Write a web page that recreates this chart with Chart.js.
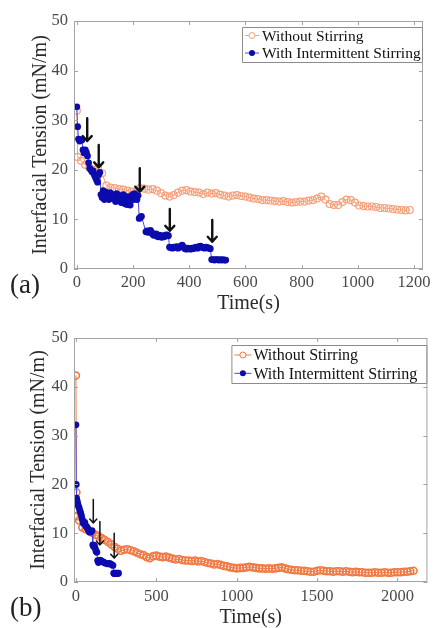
<!DOCTYPE html>
<html>
<head>
<meta charset="utf-8">
<script src="https://cdn.jsdelivr.net/npm/chart.js@4.4.0/dist/chart.umd.min.js"></script>
<style>
body { margin: 0; background: #fff; }
.painel { position: relative; width: 433px; height: 314px; }
.rotulo { position: absolute; left: 10px; font-family: 'Liberation Serif', serif; font-size: 27px; line-height: 1; color: #222; }
</style>
</head>
<body>
<div class="painel"><canvas id="graficoA" width="433" height="314"></canvas><div class="rotulo" style="top:271px">(a)</div></div>
<div class="painel"><canvas id="graficoB" width="433" height="314"></canvas><div class="rotulo" style="top:280px">(b)</div></div>
<script>
// ---- dados (a) ----
const semTempoA = [0, 3, 15, 30, 45, 60, 75, 90, 105, 120, 135, 150, 165, 180, 195, 210, 225, 240, 255, 270, 285, 300, 315, 330, 345, 360, 375, 390, 405, 420, 435, 450, 465, 480, 495, 510, 525, 540, 555, 570, 585, 600, 615, 630, 645, 660, 675, 690, 705, 720, 735, 750, 765, 780, 795, 810, 825, 840, 855, 870, 885, 900, 915, 930, 945, 960, 975, 990, 1005, 1020, 1035, 1050, 1065, 1080, 1095, 1110, 1125, 1140, 1155, 1170, 1185];
const semTensaoA = [31.9, 22.6, 21.8, 21.0, 20.4, 20.0, 20.4, 19.3, 16.8, 16.4, 16.3, 16.1, 16.0, 15.8, 15.6, 15.5, 16.3, 16.2, 16.0, 16.1, 15.8, 15.3, 14.8, 14.6, 14.9, 15.4, 15.8, 15.9, 15.6, 15.5, 15.4, 15.1, 15.4, 15.2, 15.3, 15.0, 14.8, 14.6, 14.8, 14.9, 14.7, 14.6, 14.4, 14.2, 14.1, 13.9, 13.9, 13.8, 13.7, 13.6, 13.7, 13.5, 13.4, 13.5, 13.6, 13.6, 13.8, 13.9, 14.2, 14.6, 14.0, 13.1, 12.9, 12.9, 13.5, 14.0, 13.9, 13.4, 12.8, 12.7, 12.6, 12.6, 12.5, 12.3, 12.3, 12.2, 12.1, 12.0, 11.9, 11.8, 11.9];

const comTempoA = [0, 3, 6, 10, 14, 18, 22, 26, 30, 34, 38, 42, 46, 50, 54, 58, 62, 66, 70, 74, 78, 82, 86, 90, 94, 98, 102, 106, 110, 114, 118, 122, 126, 130, 134, 138, 142, 146, 150, 154, 158, 162, 166, 170, 174, 178, 182, 186, 190, 194, 198, 202, 206, 210, 214, 218, 222, 226, 230, 246, 250, 254, 258, 262, 266, 270, 274, 278, 282, 286, 290, 294, 298, 302, 306, 310, 314, 318, 322, 326, 330, 335, 340, 345, 350, 355, 360, 365, 370, 375, 380, 385, 390, 395, 400, 405, 410, 415, 420, 425, 430, 435, 440, 445, 450, 455, 460, 465, 470, 475, 480, 485, 490, 495, 500, 505, 510, 515, 520, 525, 530];
const comTensaoA = [32.7, 28.7, 26.2, 25.8, 26.1, 26.0, 24.0, 23.4, 24.0, 23.5, 22.8, 21.4, 20.3, 20.0, 19.6, 19.8, 19.0, 18.5, 18.0, 17.5, 19.0, 19.5, 15.0, 14.4, 15.8, 14.0, 15.5, 15.2, 14.3, 14.0, 15.4, 14.8, 14.2, 15.0, 14.6, 13.6, 15.2, 14.5, 13.8, 14.8, 13.4, 14.4, 15.0, 13.2, 14.1, 13.0, 14.6, 13.8, 12.9, 14.2, 15.0, 14.0, 15.2, 14.6, 14.0, 14.8, 10.2, 10.4, 10.6, 7.5, 7.7, 7.4, 7.5, 7.8, 7.4, 7.0, 6.8, 6.9, 7.1, 6.6, 6.5, 6.8, 6.6, 6.4, 6.7, 6.5, 6.6, 6.9, 6.8, 6.7, 4.4, 4.3, 4.2, 4.4, 4.3, 4.5, 4.2, 4.4, 4.6, 4.8, 4.4, 4.1, 4.0, 4.2, 4.1, 4.0, 4.2, 4.1, 4.3, 4.4, 4.2, 4.5, 4.6, 4.4, 4.3, 4.2, 4.4, 4.3, 4.2, 4.1, 1.9, 1.9, 1.8, 1.9, 1.9, 1.8, 1.9, 1.8, 1.9, 1.8, 1.8];

const setaXA = [37, 78, 224, 331, 482];
const setaTopoA = [30.4, 25.0, 20.3, 12.1, 9.9];
const setaPontaA = [25.8, 20.5, 15.6, 7.7, 5.5];
const ticksXA = [0, 200, 400, 600, 800, 1000, 1200];

// ---- dados (b) ----
const semTempoB = [0, 3, 8, 20, 40, 60, 80, 100, 120, 140, 160, 180, 200, 220, 240, 260, 280, 300, 320, 340, 360, 380, 400, 420, 440, 460, 480, 500, 520, 540, 560, 580, 600, 620, 640, 660, 680, 700, 720, 740, 760, 780, 800, 820, 840, 860, 880, 900, 920, 940, 960, 980, 1000, 1020, 1040, 1060, 1080, 1100, 1120, 1140, 1160, 1180, 1200, 1220, 1240, 1260, 1280, 1300, 1320, 1340, 1360, 1380, 1400, 1420, 1440, 1460, 1480, 1500, 1520, 1540, 1560, 1580, 1600, 1620, 1640, 1660, 1680, 1700, 1720, 1740, 1760, 1780, 1800, 1820, 1840, 1860, 1880, 1900, 1920, 1940, 1960, 1980, 2000, 2020, 2040, 2060, 2080, 2100];
const semTensaoB = [42.3, 18.4, 13.5, 12.6, 11.2, 10.8, 10.5, 10.1, 9.7, 9.4, 9.0, 8.6, 8.2, 7.7, 7.2, 6.8, 6.4, 6.6, 6.7, 6.5, 6.3, 6.0, 5.7, 5.5, 5.1, 4.9, 5.3, 5.4, 5.2, 5.1, 5.2, 5.0, 4.8, 4.6, 4.7, 4.5, 4.4, 4.4, 4.3, 4.4, 4.2, 4.3, 4.1, 3.9, 3.8, 3.6, 3.7, 3.5, 3.3, 3.2, 3.0, 2.9, 2.8, 2.9, 2.9, 3.0, 3.1, 3.0, 2.9, 2.8, 2.8, 2.7, 2.8, 2.7, 2.8, 2.9, 3.0, 2.8, 2.6, 2.5, 2.4, 2.4, 2.3, 2.3, 2.2, 2.1, 2.1, 2.3, 2.4, 2.3, 2.2, 2.2, 2.1, 2.2, 2.2, 2.1, 2.2, 2.1, 2.0, 2.1, 2.0, 2.0, 1.9, 1.9, 1.9, 2.0, 1.9, 1.9, 2.0, 1.9, 1.9, 2.0, 2.0, 2.0, 2.1, 2.1, 2.2, 2.3];

const comTempoB = [0, 2, 4, 8, 12, 16, 20, 25, 30, 35, 40, 45, 50, 55, 60, 65, 70, 75, 80, 85, 90, 95, 100, 105, 110, 115, 120, 125, 130, 135, 140, 145, 150, 155, 160, 170, 180, 190, 200, 210, 220, 230, 235, 240, 245, 250, 255, 260, 265];
const comTensaoB = [32.2, 20.0, 17.2, 16.6, 16.0, 15.5, 15.2, 14.6, 14.1, 13.5, 12.8, 12.1, 12.0, 12.2, 11.6, 11.3, 11.2, 10.8, 10.5, 10.2, 10.4, 10.3, 10.5, 7.6, 7.3, 7.5, 6.9, 6.3, 6.1, 4.4, 4.0, 4.3, 4.5, 4.4, 4.2, 4.1, 3.9, 3.8, 3.7, 3.8, 3.6, 3.4, 1.8, 1.7, 1.8, 1.8, 1.7, 1.8, 1.8];

const setaXB = [108, 149, 238];
const setaTopoB = [16.9, 12.4, 10.0];
const setaPontaB = [12.1, 7.6, 4.9];
const ticksXB = [0, 500, 1000, 1500, 2000];

const ticksY = [0, 10, 20, 30, 40, 50];
const nomes = ['Without Stirring', 'With Intermittent Stirring'];

const pares = (xs, ys) => xs.map((x, i) => ({ x: x, y: ys[i] }));

// moldura da caixa, ticks internos, setas e legenda
const molduraPlugin = {
    id: 'moldura',
    afterDraw(chart, args, opts) {
        const { ctx, chartArea: a, scales: { x, y } } = chart;
        ctx.save();
        ctx.strokeStyle = '#a3a3a3';
        ctx.lineWidth = 1;
        ctx.strokeRect(a.left + 0.5, a.top + 0.5, a.right - a.left - 1, a.bottom - a.top - 1);
        ctx.beginPath();
        opts.ticksX.forEach(v => {
            const px = Math.round(x.getPixelForValue(v)) + 0.5;
            ctx.moveTo(px, a.bottom); ctx.lineTo(px, a.bottom - 4);
            ctx.moveTo(px, a.top); ctx.lineTo(px, a.top + 4);
        });
        ticksY.forEach(v => {
            const py = Math.round(y.getPixelForValue(v)) + 0.5;
            ctx.moveTo(a.left, py); ctx.lineTo(a.left + 4, py);
            ctx.moveTo(a.right, py); ctx.lineTo(a.right - 4, py);
        });
        ctx.stroke();

        // setas
        ctx.strokeStyle = '#111';
        ctx.lineWidth = opts.setaLargura;
        ctx.lineCap = 'round';
        ctx.lineJoin = 'round';
        opts.setaX.forEach((v, i) => {
            const px = x.getPixelForValue(v);
            const y0 = y.getPixelForValue(opts.setaTopo[i]);
            const y1 = y.getPixelForValue(opts.setaPonta[i]);
            ctx.beginPath();
            ctx.moveTo(px, y0); ctx.lineTo(px, y1);
            ctx.moveTo(px - opts.cabeca, y1 - opts.cabeca * 1.1);
            ctx.lineTo(px, y1);
            ctx.lineTo(px + opts.cabeca, y1 - opts.cabeca * 1.1);
            ctx.stroke();
        });

        // legenda
        const lg = opts.legenda;
        const bx = a.right - lg.largura - 1;
        const by = a.top + lg.topo;
        ctx.fillStyle = '#fff';
        ctx.fillRect(bx, by, lg.largura, lg.altura);
        ctx.strokeStyle = '#8c8c8c';
        ctx.lineWidth = 1;
        ctx.lineCap = 'butt';
        ctx.strokeRect(bx + 0.5, by + 0.5, lg.largura, lg.altura);
        ctx.font = lg.fonte;
        ctx.textBaseline = 'middle';
        chart.data.datasets.forEach((ds, i) => {
            const cy = by + lg.linha0 + i * lg.passo;
            ctx.strokeStyle = ds.borderColor;
            ctx.beginPath();
            ctx.moveTo(bx + 3, cy); ctx.lineTo(bx + 3 + lg.traco, cy);
            ctx.stroke();
            ctx.beginPath();
            ctx.arc(bx + 3 + lg.traco / 2, cy, 3, 0, Math.PI * 2);
            if (ds.pointBackgroundColor !== 'rgba(0,0,0,0)') {
                ctx.fillStyle = ds.pointBackgroundColor;
                ctx.fill();
            } else {
                ctx.fillStyle = '#fff';
                ctx.fill();
                ctx.strokeStyle = ds.pointBorderColor;
                ctx.stroke();
            }
            ctx.fillStyle = '#111';
            ctx.fillText(ds.label, bx + lg.texto, cy + 1);
        });
        ctx.restore();
    }
};

function criarGrafico(id, cfg) {
    const ctx = document.getElementById(id).getContext('2d');
    return new Chart(ctx, {
        type: 'line',
        data: {
            datasets: [{
                label: nomes[0],
                data: pares(cfg.semX, cfg.semY),
                borderColor: cfg.laranja,
                backgroundColor: 'rgba(0,0,0,0)',
                pointBackgroundColor: 'rgba(0,0,0,0)',
                pointBorderColor: cfg.laranja,
                pointRadius: 3.5,
                pointBorderWidth: cfg.anel,
                borderWidth: 1,
                tension: 0,
                order: 2
            }, {
                label: nomes[1],
                data: pares(cfg.comX, cfg.comY),
                borderColor: '#4646f0',
                backgroundColor: '#0b0bae',
                pointBackgroundColor: '#0b0bae',
                pointBorderColor: '#0b0bae',
                pointRadius: 3.4,
                pointBorderWidth: 0,
                borderWidth: 1,
                tension: 0,
                order: 1
            }]
        },
        options: {
            responsive: false,
            animation: false,
            devicePixelRatio: 1,
            layout: { padding: { top: cfg.topo, right: cfg.direita, left: 0, bottom: 0 } },
            plugins: {
                legend: { display: false },
                tooltip: { enabled: false },
                moldura: {
                    ticksX: cfg.ticksX,
                    setaX: cfg.setaX, setaTopo: cfg.setaTopo, setaPonta: cfg.setaPonta,
                    setaLargura: cfg.setaLargura, cabeca: cfg.cabeca,
                    legenda: cfg.legenda
                }
            },
            scales: {
                x: {
                    type: 'linear',
                    min: cfg.xMin,
                    max: cfg.xMax,
                    afterBuildTicks: s => { s.ticks = cfg.ticksX.map(v => ({ value: v })); },
                    afterFit: s => { s.height = cfg.alturaX; s.paddingLeft = 0; s.paddingRight = 0; },
                    grid: { display: false, drawTicks: false },
                    border: { display: false },
                    ticks: {
                        autoSkip: false, maxRotation: 0, padding: cfg.padX,
                        color: '#4a4a4a',
                        font: { family: 'Liberation Serif', size: 16.5 },
                        callback: v => String(v)
                    },
                    title: {
                        display: true, text: 'Time(s)', color: '#2a2a2a',
                        font: { family: 'Liberation Serif', size: 20, lineHeight: 1 },
                        padding: { top: 0, bottom: 0 }
                    }
                },
                y: {
                    min: 0,
                    max: 50,
                    afterBuildTicks: s => { s.ticks = ticksY.map(v => ({ value: v })); },
                    afterFit: s => { s.width = 74; s.paddingTop = 0; s.paddingBottom = 0; },
                    grid: { display: false, drawTicks: false },
                    border: { display: false },
                    ticks: {
                        padding: 6,
                        color: '#4a4a4a',
                        font: { family: 'Liberation Serif', size: 16.5 }
                    },
                    title: {
                        display: true, text: 'Interfacial Tension (mN/m)', color: '#2a2a2a',
                        font: { family: 'Liberation Serif', size: 20, lineHeight: 1 },
                        padding: { top: cfg.padTituloY, bottom: 0 }
                    }
                }
            }
        },
        plugins: [molduraPlugin]
    });
}

criarGrafico('graficoA', {
    semX: semTempoA, semY: semTensaoA, comX: comTempoA, comY: comTensaoA,
    laranja: '#f5a07a', anel: 1.2,
    ticksX: ticksXA, xMin: -10, xMax: 1232,
    topo: 21, direita: 10, alturaX: 45, padX: 4, padTituloY: 31,
    setaX: setaXA, setaTopo: setaTopoA, setaPonta: setaPontaA, setaLargura: 2.4, cabeca: 4.5,
    legenda: { largura: 180, altura: 35, topo: 6, linha0: 8.5, passo: 17.5, traco: 14, texto: 20, fonte: '15.5px "Liberation Serif"' }
});

criarGrafico('graficoB', {
    semX: semTempoB, semY: semTensaoB, comX: comTempoB, comY: comTensaoB,
    laranja: '#f07a45', anel: 1.6,
    ticksX: ticksXB, xMin: -12, xMax: 2186,
    topo: 24, direita: 5, alturaX: 46, padX: 5, padTituloY: 29,
    setaX: setaXB, setaTopo: setaTopoB, setaPonta: setaPontaB, setaLargura: 1.5, cabeca: 3.5,
    legenda: { largura: 195, altura: 38, topo: 7, linha0: 10, passo: 18.3, traco: 17, texto: 22, fonte: '16px "Liberation Serif"' }
});
</script>
</body>
</html>
